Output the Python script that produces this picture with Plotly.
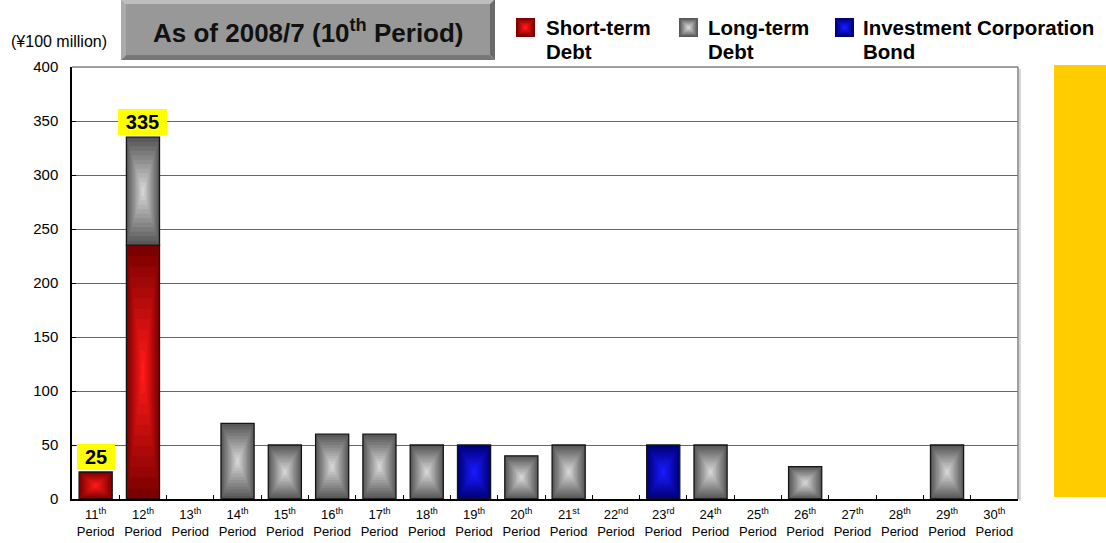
import plotly.graph_objects as go

# ---------------- data ----------------
periods = ["11<sup>th</sup>", "12<sup>th</sup>", "13<sup>th</sup>", "14<sup>th</sup>", "15<sup>th</sup>",
           "16<sup>th</sup>", "17<sup>th</sup>", "18<sup>th</sup>", "19<sup>th</sup>", "20<sup>th</sup>",
           "21<sup>st</sup>", "22<sup>nd</sup>", "23<sup>rd</sup>", "24<sup>th</sup>", "25<sup>th</sup>",
           "26<sup>th</sup>", "27<sup>th</sup>", "28<sup>th</sup>", "29<sup>th</sup>", "30<sup>th</sup>"]
tick_labels = [p + "<br>Period" for p in periods]
short_term = [25, 235, 0, 0, 0, 0, 0, 0, 0, 0, 0, 0, 0, 0, 0, 0, 0, 0, 0, 0]
long_term = [0, 100, 0, 70, 50, 60, 60, 50, 0, 40, 50, 0, 0, 50, 0, 30, 0, 0, 50, 0]
bond = [0, 0, 0, 0, 0, 0, 0, 0, 50, 0, 0, 0, 50, 0, 0, 0, 0, 0, 0, 0]
labeled_periods = ["11<sup>th</sup>", "12<sup>th</sup>"]
y_ticks = [0, 50, 100, 150, 200, 250, 300, 350, 400]
series_names = ["Short-term<br>Debt", "Long-term<br>Debt", "Investment Corporation<br>Bond"]
title_text = "As of 2008/7 (10<sup>th</sup> Period)"
unit_text = "(¥100 million)"

# ---------------- geometry / style ----------------
W, H = 1106, 543
L, R, T, B = 72, 88, 67, 44
PW, PH = W - L - R, H - T - B
FONT = "Liberation Sans, Arial, sans-serif"


def fx(px):
    return (px - L) / PW


def fy(py):
    return (H - B - py) / PH


def mix(c0, c1, f):
    return "rgb(%d,%d,%d)" % tuple(round(a + (b - a) * f) for a, b in zip(c0, c1))


BAR_W = 0.7
N = 12
grad = [((125, 0, 0), (255, 25, 25)),
        ((88, 88, 88), (212, 212, 212)),
        ((0, 0, 120), (25, 25, 255))]

bottoms = [[0] * len(periods),
           list(short_term),
           [a + b for a, b in zip(short_term, long_term)]]
values = [short_term, long_term, bond]

fig = go.Figure()
for vals, bots, (c0, c1) in zip(values, bottoms, grad):
    for i in range(N):
        t = i / N
        fig.add_trace(go.Bar(
            x=tick_labels,
            y=[v * (1 - t) if v else None for v in vals],
            base=[b + v * t / 2 for v, b in zip(vals, bots)],
            width=BAR_W * (1 - t),
            marker=dict(color=mix(c0, c1, i / (N - 1)), line=dict(width=0)),
            showlegend=False, hoverinfo="skip"))
    fig.add_trace(go.Bar(
        x=tick_labels,
        y=[v if v else None for v in vals],
        base=bots,
        width=BAR_W,
        marker=dict(color="rgba(0,0,0,0)", line=dict(color="#151515", width=1.3)),
        showlegend=False, hoverinfo="skip"))

shapes = []
annotations = []

# totals labels (yellow boxes)
totals = [a + b + c for a, b, c in zip(short_term, long_term, bond)]
for p, lab, tot in zip(periods, tick_labels, totals):
    if p in labeled_periods:
        txt = str(tot)
        annotations.append(dict(
            x=lab, y=tot, xref="x", yref="y", text="<b>%s</b>" % txt,
            showarrow=False, yanchor="bottom", yshift=2,
            font=dict(family=FONT, size=20, color="black"),
            bgcolor="#FFFF00", borderpad=0, borderwidth=0,
            width=11 * len(txt) + 16, height=26))

# yellow side bar
shapes.append(dict(type="rect", xref="paper", yref="paper",
                   x0=fx(1054), x1=fx(1112), y0=fy(497), y1=fy(65),
                   fillcolor="#FFCC00", line=dict(width=0), layer="below"))

# frame top / right lines and shadow
shapes.append(dict(type="line", xref="paper", yref="paper", x0=0, x1=1, y0=1, y1=1,
                   line=dict(color="#7f7f7f", width=1.5)))
shapes.append(dict(type="line", xref="paper", yref="paper", x0=fx(1020), x1=fx(1020),
                   y0=fy(501), y1=fy(69), line=dict(color="#c8c8c8", width=1.5)))
shapes.append(dict(type="line", xref="paper", yref="paper", x0=1, x1=1, y0=0, y1=1,
                   line=dict(color="#7f7f7f", width=1.5)))

# title bevel box
x0, x1, y0, y1, bw = 121, 495, -1, 60, 5


def path(pts):
    return "M " + " L ".join("%f,%f" % (fx(a), fy(b)) for a, b in pts) + " Z"


bevel = [
    ([(x0, y0), (x1, y0), (x1 - bw, y0 + bw), (x0 + bw, y0 + bw)], "#BDBDBD"),
    ([(x0, y0), (x0 + bw, y0 + bw), (x0 + bw, y1 - bw), (x0, y1)], "#ABABAB"),
    ([(x1, y0), (x1, y1), (x1 - bw, y1 - bw), (x1 - bw, y0 + bw)], "#6A6A6A"),
    ([(x0, y1), (x1, y1), (x1 - bw, y1 - bw), (x0 + bw, y1 - bw)], "#777777"),
    ([(x0 + bw, y0 + bw), (x1 - bw, y0 + bw), (x1 - bw, y1 - bw), (x0 + bw, y1 - bw)], "#989898"),
]
for pts, col in bevel:
    shapes.append(dict(type="path", xref="paper", yref="paper", path=path(pts),
                       fillcolor=col, line=dict(width=0)))
annotations.append(dict(x=fx((x0 + x1) / 2), y=fy(32), xref="paper", yref="paper",
                        text="<b>%s</b>" % title_text, showarrow=False,
                        xanchor="center", yanchor="middle",
                        font=dict(family=FONT, size=26, color="#111111")))

# unit label
annotations.append(dict(x=fx(9), y=fy(41), xref="paper", yref="paper", text=unit_text,
                        showarrow=False, xanchor="left", yanchor="middle",
                        font=dict(family=FONT, size=16, color="black")))

# manual legend
legend_sq = [516, 679, 835]
legend_tx = [544, 706, 861]
for name, sx, tx, (c0, c1) in zip(series_names, legend_sq, legend_tx, grad):
    s0, s1, t0, t1 = sx, sx + 19, 18, 37
    K = 6
    for i in range(K):
        d = 9.5 * i / K
        shapes.append(dict(type="rect", xref="paper", yref="paper",
                           x0=fx(s0 + d), x1=fx(s1 - d), y0=fy(t1 - d), y1=fy(t0 + d),
                           fillcolor=mix(c0, c1, i / (K - 1)), line=dict(width=0)))
    for j, line_txt in enumerate(name.split("<br>")):
        annotations.append(dict(x=fx(tx), y=fy(27 + 24 * j), xref="paper", yref="paper",
                                text="<b>%s</b>" % line_txt, showarrow=False,
                                xanchor="left", yanchor="middle",
                                font=dict(family=FONT, size=20.5, color="black")))

fig.update_layout(
    width=W, height=H,
    margin=dict(l=L, r=R, t=T, b=B, pad=0, autoexpand=False),
    paper_bgcolor="white", plot_bgcolor="white",
    barmode="overlay", showlegend=False,
    font=dict(family=FONT, color="black"),
    shapes=shapes, annotations=annotations,
    xaxis=dict(type="category", categoryorder="array", categoryarray=tick_labels,
               showline=True, linecolor="black", linewidth=1.5,
               ticks="inside", tickson="boundaries", ticklen=4, tickcolor="black",
               showgrid=False, tickfont=dict(family=FONT, size=13, color="black"),
               ticklabelstandoff=3, automargin=False, fixedrange=True),
    yaxis=dict(range=[0, 400], tickvals=y_ticks, showline=True, linecolor="black",
               linewidth=1.5, ticks="inside", ticklen=4, tickcolor="black",
               showgrid=True, gridcolor="#666666", gridwidth=1, zeroline=False,
               tickfont=dict(family=FONT, size=15, color="black"),
               ticklabelstandoff=9, automargin=False, fixedrange=True),
)

fig.write_html("out.html", config={"displayModeBar": False},
               post_script="document.body.style.margin='0';document.body.style.overflow='hidden';")
